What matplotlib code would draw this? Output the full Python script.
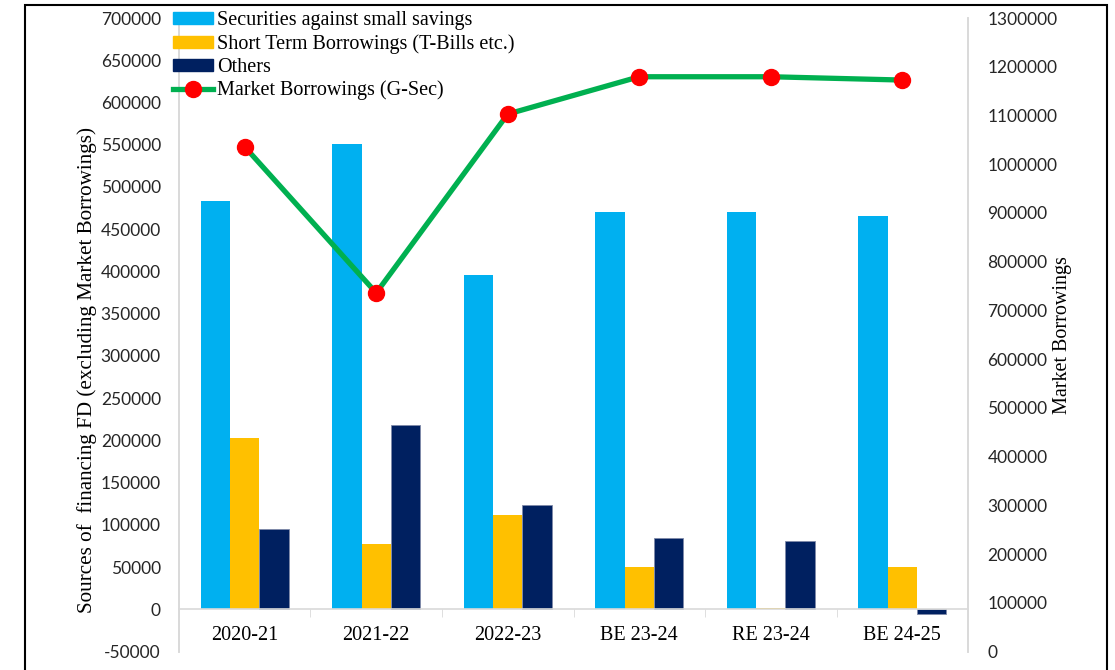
import numpy as np
import matplotlib
matplotlib.use("Agg")
import matplotlib.pyplot as plt
from matplotlib.patches import Rectangle, Patch
from matplotlib.lines import Line2D
from matplotlib.ticker import FuncFormatter

# values (Rs crore)
years = ["2020-21", "2021-22", "2022-23", "BE 23-24", "RE 23-24", "BE 24-25"]
small_savings = [483500, 550500, 395500, 470000, 470000, 465500]
short_term = [202300, 77000, 111400, 49800, 1500, 49800]
others = [94800, 218000, 123600, 83800, 81400, -6000]
market_borrowings = [1035700, 735900, 1102900, 1179500, 1179500, 1172700]

serif = ["Liberation Serif", "DejaVu Serif"]
tick_font = ["Lato", "DejaVu Sans"]
grey = "#D9D9D9"
plain = FuncFormatter(lambda v, pos: f"{v:.0f}")

fig = plt.figure(figsize=(11.15, 6.7), dpi=100)
ax = fig.add_axes([0.1605, 0.0276, 0.7077, 0.9455])
ax2 = ax.twinx()

x = np.arange(len(years))
w = 0.223
ax.bar(x - w, small_savings, w, color="#00B0F0", zorder=2)
ax.bar(x, short_term, w, color="#FFC000", zorder=2)
ax.bar(x + w, others, w, color="#002060", edgecolor="#7F8AA8", linewidth=0.6, zorder=2)

ax2.plot(x, market_borrowings, color="#00B050", lw=3.8, marker="o",
         markersize=11.5, markerfacecolor="#FF0000", markeredgecolor="#FF0000", zorder=3)

# left axis
ax.set_xlim(-0.5, len(years) - 0.5)
ax.set_ylim(-50000, 700000)
ax.set_yticks(np.arange(-50000, 700001, 50000))
ax.yaxis.set_major_formatter(plain)
ax.tick_params(axis="y", length=0, pad=13, labelsize=12.5)
for lbl in ax.get_yticklabels():
    lbl.set_family(tick_font)
    lbl.set_color("#262626")

# right axis
ax2.set_ylim(0, 1300000)
ax2.set_yticks(np.arange(0, 1300001, 100000))
ax2.yaxis.set_major_formatter(plain)
ax2.tick_params(axis="y", length=0, pad=14, labelsize=12.5)
for lbl in ax2.get_yticklabels():
    lbl.set_family(tick_font)
    lbl.set_color("#262626")

# category axis sitting on zero
ax.spines["bottom"].set_position(("data", 0))
ax.set_xticks(x)
ax.set_xticklabels(years, family=serif, fontsize=14.5)
ax.set_xticks(np.arange(-0.5, len(years)), minor=True)
ax.tick_params(axis="x", which="major", length=0, pad=12)
ax.tick_params(axis="x", which="minor", length=6, color=grey, direction="out")

for a in (ax, ax2):
    a.spines["top"].set_visible(False)
    for s in ("left", "right", "bottom"):
        a.spines[s].set_color(grey)
        a.spines[s].set_linewidth(1.2)
ax2.spines["bottom"].set_visible(False)

ax.set_ylabel("Sources of  financing FD (excluding Market Borrowings)",
              family=serif, fontsize=15.2)
ax.yaxis.set_label_coords(-0.104, 0.445)
ax2.set_ylabel("Market Borrowings", family=serif, fontsize=14.5, rotation=90)
ax2.yaxis.set_label_coords(1.108, 0.5)

handles = [
    Patch(color="#00B0F0"),
    Patch(color="#FFC000"),
    Patch(color="#002060"),
    Line2D([], [], color="#00B050", lw=3.8, marker="o", markersize=11.5,
           markerfacecolor="#FF0000", markeredgecolor="#FF0000"),
]
labels = ["Securities against small savings", "Short Term Borrowings (T-Bills etc.)",
          "Others", "Market Borrowings (G-Sec)"]
fig.legend(handles, labels, loc="upper left", bbox_to_anchor=(0.1475, 0.995),
           frameon=False, prop={"family": serif, "size": 14.5},
           handlelength=2.0, handleheight=0.55, handletextpad=0.2,
           labelspacing=0.19, borderaxespad=0)

# outer frame of the pasted figure
fig.patches.append(Rectangle((25 / 1115, -0.1), (1107 - 25) / 1115, 1.1 - 5 / 670,
                             transform=fig.transFigure, fill=False,
                             edgecolor="black", lw=1.5))

fig.savefig("out.png", dpi=100)
